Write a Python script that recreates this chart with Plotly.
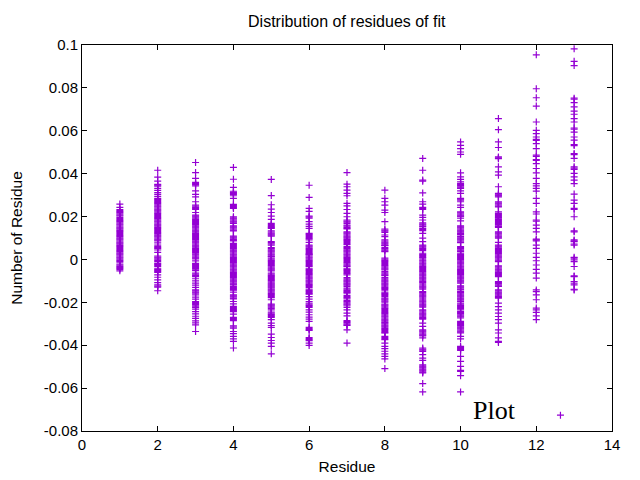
import plotly.graph_objects as go

# residues per column (x = 1..13), in units of 1e-4
res_1 = [258, 243, 233, 228, 223, 218, 213, 208, 203, 196, 191, 186, 181, 176, 171, 166, 161, 156, 151,
         146, 141, 136, 131, 126, 121, 116, 111, 106, 101, 96, 91, 86, 81, 76, 71, 66, 61, 56, 51, 46, 41,
         36, 31, 26, 21, 16, 11, 6, 1, -4, -9, -13, -22, -27, -32, -37, -42, -46, -53]
res_2 = [416, 384, 365, 350, 346, 342, 331, 322, 312, 303, 294, 285, 280, 275, 270, 265, 260, 255, 250,
         245, 240, 235, 230, 225, 220, 215, 210, 205, 200, 195, 190, 185, 180, 175, 170, 165, 160, 155,
         150, 145, 140, 135, 130, 125, 120, 115, 110, 105, 100, 95, 90, 86, 77, 67, 60, 55, 50, 44, 33, 16,
         11, 6, 1, -4, -10, -18, -23, -28, -33, -41, -46, -51, -56, -60, -72, -83, -95, -108, -119, -124,
         -129, -146]
res_3 = [452, 405, 378, 359, 354, 349, 343, 320, 303, 292, 269, 253, 248, 243, 238, 233, 219, 207, 202,
         197, 192, 187, 182, 177, 172, 167, 162, 157, 152, 147, 142, 137, 132, 127, 122, 117, 112, 107,
         102, 97, 92, 87, 82, 77, 72, 67, 62, 57, 52, 47, 42, 37, 32, 26, 21, 16, 11, 6, 2, -7, -18, -23,
         -28, -33, -38, -43, -48, -52, -64, -69, -74, -80, -90, -100, -110, -120, -130, -142, -147, -152,
         -157, -165, -176, -185, -196, -201, -206, -211, -216, -221, -224, -232, -243, -254, -265, -275,
         -286, -296, -305, -336]
res_4 = [429, 374, 336, 318, 313, 308, 303, 297, 285, 257, 252, 247, 242, 238, 199, 194, 189, 184, 179,
         174, 168, 157, 152, 147, 142, 137, 133, 109, 104, 99, 94, 89, 86, 75, 70, 65, 60, 55, 50, 45, 40,
         35, 30, 25, 20, 15, 10, 5, 0, -5, -10, -15, -20, -25, -30, -35, -40, -45, -50, -55, -60, -65, -70,
         -75, -80, -85, -90, -95, -100, -105, -110, -115, -119, -126, -131, -136, -141, -146, -153, -165,
         -170, -175, -180, -184, -196, -207, -219, -224, -229, -234, -239, -243, -255, -270, -275, -280,
         -285, -310, -315, -320, -336, -346, -359, -370, -382, -413]
res_5 = [373, 298, 255, 235, 219, 202, 187, 168, 163, 158, 153, 148, 145, 133, 128, 123, 118, 113, 109,
         83, 78, 73, 67, 55, 50, 45, 40, 35, 30, 25, 20, 15, 13, 6, 1, -4, -9, -14, -19, -24, -29, -34,
         -39, -44, -49, -53, -64, -69, -74, -79, -84, -89, -94, -99, -104, -109, -114, -119, -123, -128,
         -133, -138, -143, -148, -153, -158, -163, -168, -173, -178, -188, -208, -213, -218, -223, -228,
         -235, -246, -251, -256, -261, -266, -270, -281, -297, -308, -317, -348, -364, -378, -390, -405,
         -440]
res_6 = [346, 289, 238, 224, 202, 197, 192, 176, 165, 154, 145, 122, 117, 112, 107, 102, 97, 91, 80, 67,
         62, 57, 52, 47, 42, 37, 32, 27, 24, 21, 16, 11, 6, 1, -4, -9, -14, -19, -24, -29, -33, -41, -46,
         -51, -56, -61, -66, -71, -76, -81, -86, -91, -96, -101, -106, -111, -116, -121, -126, -131, -139,
         -144, -149, -154, -159, -162, -173, -185, -196, -204, -209, -214, -219, -224, -235, -246, -258,
         -269, -278, -289, -317, -322, -327, -331, -364, -369, -374, -379, -390, -401]
res_7 = [405, 351, 339, 323, 308, 297, 261, 250, 233, 215, 199, 184, 179, 174, 168, 160, 155, 150, 145,
         142, 129, 124, 119, 114, 109, 104, 99, 94, 89, 84, 79, 74, 69, 60, 55, 50, 45, 40, 35, 30, 25, 20,
         15, 10, 5, 0, -5, -10, -15, -20, -25, -30, -33, -41, -46, -51, -56, -61, -66, -72, -85, -90, -95,
         -100, -105, -110, -115, -120, -126, -134, -139, -144, -149, -154, -157, -168, -173, -178, -184,
         -192, -197, -202, -207, -212, -217, -224, -235, -250, -263, -285, -290, -295, -300, -305, -308,
         -328, -390]
res_8 = [323, 285, 269, 253, 230, 219, 176, 142, 137, 132, 126, 114, 106, 91, 86, 81, 76, 71, 66, 64, 55,
         50, 45, 40, 36, 6, 1, -4, -9, -14, -19, -24, -29, -34, -39, -44, -49, -57, -62, -67, -72, -75, -85,
         -90, -95, -100, -105, -110, -115, -120, -125, -130, -135, -140, -146, -153, -158, -163, -168,
         -173, -180, -185, -190, -195, -199, -208, -213, -218, -223, -228, -233, -238, -243, -248, -253,
         -258, -263, -268, -273, -278, -283, -288, -293, -297, -301, -306, -311, -316, -321, -326, -331,
         -336, -341, -343, -359, -364, -369, -374, -390, -405, -416, -428, -440, -452, -464, -509]
res_9 = [471, 416, 370, 365, 310, 269, 258, 243, 238, 233, 207, 196, 184, 171, 166, 161, 156, 153, 145,
         140, 134, 122, 99, 83, 67, 62, 57, 52, 47, 41, 29, 24, 19, 14, 9, 6, -2, -7, -12, -17, -22, -27,
         -32, -37, -42, -47, -52, -57, -62, -67, -72, -77, -82, -87, -92, -97, -102, -107, -111, -119, -124,
         -129, -134, -139, -150, -155, -160, -165, -170, -175, -180, -188, -193, -198, -203, -208, -213,
         -218, -222, -235, -240, -245, -250, -255, -260, -265, -270, -275, -278, -297, -312, -328, -333,
         -338, -343, -348, -353, -356, -366, -413, -418, -423, -429, -444, -460, -471, -491, -496, -501,
         -506, -511, -516, -521, -526, -529, -579, -618]
res_10 = [548, 532, 517, 501, 490, 404, 385, 373, 362, 354, 349, 344, 339, 334, 331, 320, 308, 285, 281,
          277, 269, 253, 243, 222, 217, 212, 207, 202, 199, 192, 180, 157, 152, 147, 142, 137, 132, 127,
          122, 117, 114, 106, 101, 96, 91, 86, 81, 78, 60, 55, 50, 45, 40, 36, 29, 24, 19, 14, 9, 4, -1,
          -6, -11, -16, -21, -26, -31, -36, -41, -46, -51, -56, -61, -66, -71, -76, -81, -86, -91, -96,
          -101, -106, -111, -123, -128, -133, -138, -142, -150, -155, -160, -165, -170, -175, -180, -185,
          -190, -196, -204, -209, -214, -219, -224, -229, -235, -243, -248, -253, -258, -263, -268, -273,
          -289, -294, -299, -304, -309, -314, -319, -324, -329, -334, -339, -343, -359, -370, -405, -410,
          -415, -420, -424, -452, -475, -499, -517, -522, -542, -618]
res_11 = [657, 605, 548, 522, 478, 474, 470, 432, 408, 393, 339, 308, 304, 300, 296, 292, 269, 264, 259,
          254, 249, 245, 222, 215, 210, 205, 200, 195, 192, 187, 182, 177, 172, 167, 162, 157, 153, 150,
          129, 124, 119, 114, 109, 104, 99, 80, 67, 62, 57, 52, 47, 42, 37, 32, 27, 22, 17, 12, 7, 2, -3,
          -8, -10, -30, -35, -40, -45, -50, -55, -60, -65, -70, -75, -80, -103, -108, -113, -118, -123,
          -126, -142, -147, -152, -157, -162, -167, -172, -177, -180, -204, -220, -235, -250, -266, -281,
          -297, -328, -343, -366, -382, -387]
res_12 = [954, 796, 754, 715, 641, 602, 587, 571, 560, 555, 540, 517, 486, 481, 466, 462, 447, 424, 404,
          378, 354, 343, 331, 319, 285, 261, 222, 212, 184, 179, 160, 145, 129, 95, 91, 87, 67, 52, 29, 10,
          -6, -26, -46, -64, -87, -142, -150, -165, -188, -227, -235, -247, -263, -281]
res_13 = [982, 924, 904, 752, 747, 731, 711, 692, 677, 657, 641, 613, 608, 594, 571, 556, 536, 531, 494,
          489, 471, 432, 426, 420, 401, 385, 370, 354, 305, 277, 261, 238, 233, 199, 133, 129, 91, 87, 83,
          72, 67, 10, 6, -2, -10, -33, -77, -80, -103, -111, -119, -139, -142]

columns = [res_1, res_2, res_3, res_4, res_5, res_6, res_7, res_8, res_9, res_10, res_11, res_12, res_13]

y_ticks = [-0.08, -0.06, -0.04, -0.02, 0, 0.02, 0.04, 0.06, 0.08, 0.1]
y_labels = ['-0.08', '-0.06', '-0.04', '-0.02', '0', '0.02', '0.04', '0.06', '0.08', '0.1']

px, py = [], []
for n, col in enumerate(columns):
    for v in col:
        px.append(n + 1)
        py.append(v / 10000)

purple = '#9400D3'
fig = go.Figure(go.Scatter(x=px, y=py, mode='markers', name=' ',
                           marker=dict(symbol='cross-thin', size=5, color=purple,
                                       line=dict(color=purple, width=1.2))))

axis = dict(showgrid=False, zeroline=False, showline=True, linecolor='black', linewidth=1,
            mirror='ticks', ticks='inside', ticklen=5, tickcolor='black', automargin=False,
            tickfont=dict(size=15, color='black'))

# the page body adds 8px, so the figure is 632x472 and the margins are shifted
fig.update_layout(
    width=632, height=472,
    margin=dict(l=74, r=28, t=37, b=49),
    paper_bgcolor='white', plot_bgcolor='white',
    font=dict(family='Liberation Sans', size=15, color='black'),
    title=dict(text='Distribution of residues of fit', x=0.536, xanchor='center',
               y=0.972, yanchor='middle', font=dict(size=16)),
    xaxis=dict(axis, range=[0, 14], dtick=2,
               title=dict(text='Residue', standoff=9, font=dict(size=15.5))),
    yaxis=dict(axis, range=[-0.08, 0.1], tickvals=y_ticks, ticktext=y_labels,
               title=dict(text='Number of Residue', standoff=23, font=dict(size=15.5))),
    showlegend=True,
    legend=dict(x=0.865, y=0.041, xanchor='left', yanchor='middle',
                bgcolor='rgba(0,0,0,0)', font=dict(size=2)),
    annotations=[dict(text='Plot', xref='paper', yref='paper', x=0.734, y=0.054,
                      xanchor='left', yanchor='middle', showarrow=False,
                      font=dict(family='Liberation Serif', size=26))],
)

fig.write_html("out.html")
